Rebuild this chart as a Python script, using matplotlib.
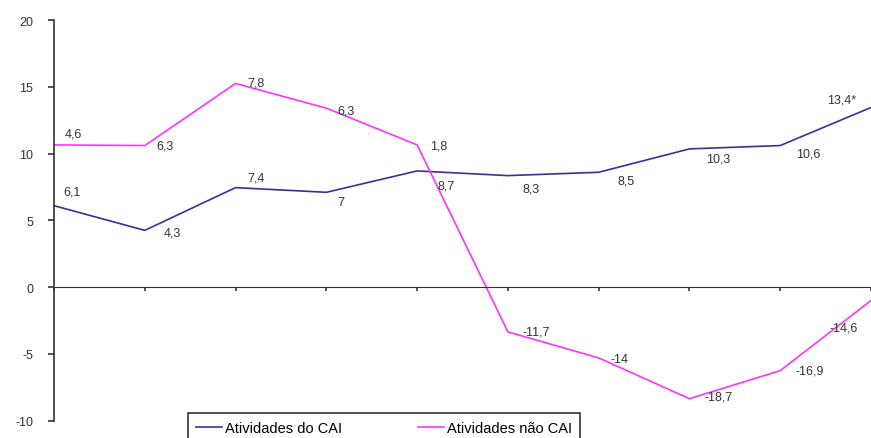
import numpy as np
import matplotlib.pyplot as plt

plt.rcParams['font.family'] = ['Liberation Sans', 'DejaVu Sans']
plt.rcParams['axes.unicode_minus'] = False

# plotted positions and printed labels
x = np.arange(10)
cai = [6.1, 4.25, 7.45, 7.1, 8.7, 8.35, 8.6, 10.35, 10.6, 13.45]
nao_cai = [10.65, 10.6, 15.25, 13.4, 10.65, -3.35, -5.3, -8.35, -6.25, -1.0]
cai_labels = ['6,1', '4,3', '7,4', '7', '8,7', '8,3', '8,5', '10,3', '10,6', '13,4*']
nao_labels = ['4,6', '6,3', '7,8', '6,3', '1,8', '-11,7', '-14', '-18,7', '-16,9', '-14,6']

# label offsets in pixels
cai_off = [(18, 14), (28, -2), (20, 10), (15, -10), (29, -15), (23, -13),
           (27, -8), (29, -10), (28, -8), (-29, 8)]
nao_off = [(19, 11), (20, 0), (20, 1), (20, -2), (22, -1), (28, 0),
           (21, -1), (29, 2), (29, 0), (-27, -27)]

fig = plt.figure(figsize=(8.71, 4.39), dpi=100)
ax = fig.add_axes([54/871, 17.3/439, 1 - 54/871, 400.7/439])

l1, = ax.plot(x, cai, color='#333399', lw=1.2, label='Atividades do CAI')
l2, = ax.plot(x, nao_cai, color='#ff33ff', lw=1.2, label='Atividades não CAI')

for xi, yi, t, o in zip(x, cai, cai_labels, cai_off):
    ax.annotate(t, (xi, yi), xytext=o, textcoords='offset pixels',
                ha='center', va='center', fontsize=9, color='#333333')
for xi, yi, t, o in zip(x, nao_cai, nao_labels, nao_off):
    ax.annotate(t, (xi, yi), xytext=o, textcoords='offset pixels',
                ha='center', va='center', fontsize=9, color='#333333')

ax.set_xlim(0, 9 * (871 - 54) / (874 - 54))
ax.set_ylim(-10, 20)
ax.set_yticks(np.arange(-10, 21, 5))
ax.set_xticks(x)
ax.set_xticklabels([])

for s in ['top', 'right']:
    ax.spines[s].set_visible(False)
ax.spines['bottom'].set_position(('data', 0))
ax.spines['left'].set_color('#333333')
ax.spines['bottom'].set_color('#333333')
ax.spines['left'].set_linewidth(1.2)
ax.tick_params(axis='y', direction='out', length=4, width=1.2, colors='#333333',
               labelsize=9, pad=11)
ax.tick_params(axis='x', direction='out', length=3, width=1.2, colors='#333333')

leg = fig.legend(handles=[l1, l2], loc='upper left',
                 bbox_to_anchor=(188/871, 1 - 414/439), ncol=2,
                 fontsize=10.5, fancybox=False, edgecolor='#333333',
                 handlelength=1.8, handletextpad=0.2, columnspacing=5.2,
                 borderpad=0.55, borderaxespad=0, framealpha=1)
leg.get_frame().set_linewidth(1.2)

fig.savefig('out.png', dpi=100)
